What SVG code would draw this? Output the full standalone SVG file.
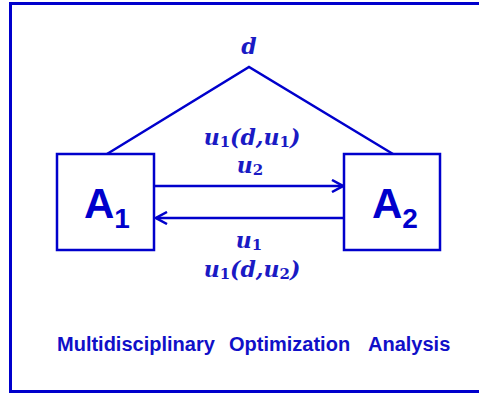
<svg xmlns="http://www.w3.org/2000/svg" width="479" height="393" viewBox="0 0 479 393">
<defs>
<style>
.ln{fill:none;stroke:#0000CC;stroke-width:2.5;stroke-linecap:butt;stroke-linejoin:miter}
.box{fill:#fff;stroke:#0000CC;stroke-width:2.5}
.m{font-family:"DejaVu Serif","Liberation Serif",serif;font-weight:bold;font-style:italic;fill:#1a1ac4;font-size:22px}
.sub{font-style:normal;font-size:15px}
.lbl{font-family:"Liberation Sans",Arial,sans-serif;font-weight:bold;fill:#0000CC}
.cap{font-family:"Liberation Sans",Arial,sans-serif;font-weight:bold;fill:#1010C8;font-size:20px}
</style>
<marker id="ah" markerWidth="14" markerHeight="14" viewBox="-13 -7 14 14" refX="0" refY="0" orient="auto" markerUnits="userSpaceOnUse">
<path d="M-11,-6 L0,0 L-11,6" fill="none" stroke="#0000CC" stroke-width="2.5"/>
</marker>
</defs>
<rect x="0" y="0" width="479" height="393" fill="#fff"/>
<rect x="10.5" y="3.5" width="480" height="388" fill="none" stroke="#0000CC" stroke-width="3"/>
<g id="connectors">
<polyline class="ln" points="107,154 249,67 393,154"/>
<line class="ln" x1="155" y1="186" x2="343" y2="186" marker-end="url(#ah)"/>
<line class="ln" x1="343" y1="218" x2="156" y2="218" marker-end="url(#ah)"/>
</g>
<g id="node-d">
<text class="m" x="249" y="54" text-anchor="middle" font-size="28">d</text>
</g>
<g id="node-A1">
<rect class="box" x="57" y="154" width="97" height="96"/>
<text class="lbl" x="84" y="218" font-size="42">A<tspan font-size="28" y="228">1</tspan></text>
</g>
<g id="node-A2">
<rect class="box" x="344" y="154" width="96" height="96"/>
<text class="lbl" x="372" y="218" font-size="42">A<tspan font-size="28" y="228">2</tspan></text>
</g>
<g id="labels">
<text class="m" x="252" y="145" text-anchor="middle">u<tspan class="sub" dy="2">1</tspan><tspan dy="-2">(d,u</tspan><tspan class="sub" dy="2">1</tspan><tspan dy="-2">)</tspan></text>
<text class="m" x="250" y="173" text-anchor="middle">u<tspan class="sub" dy="2">2</tspan></text>
<text class="m" x="249" y="248" text-anchor="middle">u<tspan class="sub" dy="2">1</tspan></text>
<text class="m" x="252" y="277" text-anchor="middle">u<tspan class="sub" dy="2">1</tspan><tspan dy="-2">(d,u</tspan><tspan class="sub" dy="2">2</tspan><tspan dy="-2">)</tspan></text>
</g>
<g id="caption">
<text class="cap" y="351"><tspan x="57">Multidisciplinary</tspan><tspan x="229">Optimization</tspan><tspan x="368">Analysis</tspan></text>
</g>
</svg>
